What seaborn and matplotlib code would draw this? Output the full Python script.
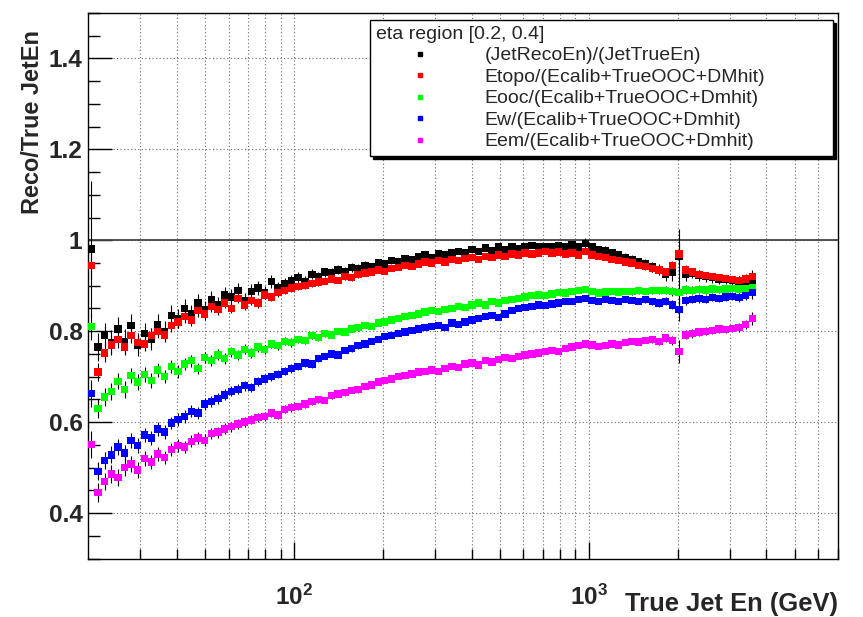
import numpy as np
import pandas as pd
import matplotlib
matplotlib.use("Agg")
import matplotlib.pyplot as plt
import seaborn as sns
from matplotlib import font_manager as fm
from matplotlib.ticker import FixedLocator, FuncFormatter, NullFormatter
from matplotlib.lines import Line2D

# ---------------- data ----------------
energy = [
    20.5, 21.6, 22.8, 24.0, 25.3, 26.6, 28.0, 29.5, 31.1, 32.8,
    34.5, 36.4, 38.3, 40.4, 42.5, 44.8, 47.2, 49.7, 52.4, 55.2,
    58.2, 61.3, 64.5, 68.0, 71.6, 75.5, 79.5, 83.8, 88.3, 93.0,
    98.0, 103, 109, 115, 121, 127, 134, 141, 149, 157,
    165, 174, 183, 193, 203, 214, 226, 238, 251, 264,
    278, 293, 309, 325, 343, 361, 380, 401, 422, 445,
    469, 494, 520, 548, 577, 608, 641, 675, 711, 749,
    789, 832, 876, 923, 973, 1025, 1080, 1138, 1199, 1263,
    1331, 1402, 1477, 1556, 1640, 1728, 1820, 1918, 2020, 2129,
    2243, 2363, 2490, 2623, 2763, 2911, 3067, 3232, 3405, 3587]

reco_over_true = [
    0.981, 0.765, 0.790, 0.775, 0.805, 0.778, 0.812, 0.770, 0.795, 0.782,
    0.815, 0.800, 0.835, 0.828, 0.850, 0.838, 0.862, 0.848, 0.870, 0.858,
    0.880, 0.875, 0.890, 0.868, 0.888, 0.895, 0.885, 0.910, 0.895, 0.905,
    0.912, 0.918, 0.910, 0.925, 0.920, 0.930, 0.928, 0.935, 0.932, 0.940,
    0.938, 0.945, 0.942, 0.950, 0.948, 0.955, 0.952, 0.960, 0.958, 0.965,
    0.968, 0.962, 0.970, 0.968, 0.972, 0.975, 0.972, 0.980, 0.976, 0.983,
    0.978, 0.985, 0.980, 0.986, 0.982, 0.985, 0.988, 0.985, 0.987, 0.985,
    0.988, 0.986, 0.990, 0.985, 0.993, 0.985, 0.980, 0.978, 0.972, 0.968,
    0.962, 0.958, 0.952, 0.948, 0.942, 0.935, 0.925, 0.930, 0.965, 0.925,
    0.928, 0.922, 0.920, 0.918, 0.915, 0.914, 0.912, 0.910, 0.906, 0.905]

etopo = [
    0.944, 0.710, 0.752, 0.770, 0.782, 0.765, 0.790, 0.775, 0.772, 0.790,
    0.800, 0.792, 0.812, 0.820, 0.832, 0.825, 0.845, 0.838, 0.855, 0.848,
    0.862, 0.850, 0.872, 0.858, 0.868, 0.862, 0.880, 0.875, 0.885, 0.890,
    0.895, 0.898, 0.900, 0.905, 0.908, 0.910, 0.915, 0.912, 0.920, 0.918,
    0.925, 0.928, 0.930, 0.935, 0.932, 0.938, 0.940, 0.945, 0.942, 0.948,
    0.952, 0.950, 0.955, 0.952, 0.958, 0.955, 0.960, 0.962, 0.958, 0.965,
    0.962, 0.968, 0.965, 0.970, 0.968, 0.972, 0.970, 0.972, 0.975, 0.972,
    0.974, 0.970, 0.972, 0.968, 0.975, 0.968, 0.965, 0.962, 0.958, 0.955,
    0.952, 0.950, 0.945, 0.942, 0.938, 0.935, 0.930, 0.945, 0.970, 0.935,
    0.930, 0.925, 0.922, 0.920, 0.918, 0.916, 0.914, 0.912, 0.915, 0.920]

eooc = [
    0.810, 0.630, 0.655, 0.668, 0.690, 0.672, 0.702, 0.688, 0.705, 0.692,
    0.715, 0.700, 0.722, 0.712, 0.728, 0.735, 0.718, 0.742, 0.735, 0.748,
    0.740, 0.755, 0.748, 0.760, 0.752, 0.765, 0.760, 0.772, 0.768, 0.778,
    0.775, 0.782, 0.780, 0.790, 0.786, 0.795, 0.792, 0.800, 0.798, 0.805,
    0.808, 0.812, 0.810, 0.818, 0.820, 0.825, 0.828, 0.832, 0.835, 0.838,
    0.842, 0.845, 0.843, 0.848, 0.850, 0.855, 0.852, 0.858, 0.862, 0.858,
    0.865, 0.862, 0.868, 0.870, 0.872, 0.875, 0.878, 0.880, 0.878, 0.882,
    0.885, 0.884, 0.888, 0.890, 0.892, 0.888, 0.884, 0.886, 0.888, 0.886,
    0.888, 0.887, 0.889, 0.888, 0.890, 0.889, 0.890, 0.888, 0.885, 0.891,
    0.890, 0.892, 0.891, 0.893, 0.892, 0.893, 0.894, 0.893, 0.894, 0.895]

ew = [
    0.663, 0.492, 0.515, 0.528, 0.545, 0.532, 0.560, 0.548, 0.572, 0.565,
    0.585, 0.578, 0.598, 0.606, 0.612, 0.624, 0.620, 0.640, 0.645, 0.652,
    0.660, 0.668, 0.672, 0.680, 0.676, 0.690, 0.695, 0.700, 0.705, 0.712,
    0.718, 0.722, 0.730, 0.728, 0.740, 0.745, 0.750, 0.748, 0.758, 0.762,
    0.768, 0.772, 0.778, 0.782, 0.788, 0.790, 0.795, 0.798, 0.802, 0.805,
    0.808, 0.810, 0.812, 0.808, 0.818, 0.815, 0.820, 0.825, 0.828, 0.832,
    0.835, 0.830, 0.838, 0.845, 0.850, 0.852, 0.855, 0.858, 0.856, 0.860,
    0.862, 0.865, 0.866, 0.870, 0.872, 0.868, 0.866, 0.870, 0.868, 0.865,
    0.870, 0.868, 0.866, 0.870, 0.865, 0.862, 0.866, 0.858, 0.848, 0.868,
    0.870, 0.872, 0.870, 0.874, 0.872, 0.875, 0.876, 0.874, 0.878, 0.885]

eem = [
    0.551, 0.445, 0.470, 0.486, 0.478, 0.500, 0.508, 0.495, 0.520, 0.512,
    0.530, 0.522, 0.540, 0.548, 0.545, 0.558, 0.565, 0.560, 0.575, 0.578,
    0.585, 0.590, 0.596, 0.600, 0.605, 0.610, 0.612, 0.620, 0.616, 0.628,
    0.632, 0.635, 0.640, 0.645, 0.650, 0.648, 0.658, 0.662, 0.665, 0.670,
    0.672, 0.678, 0.682, 0.688, 0.692, 0.695, 0.700, 0.702, 0.706, 0.710,
    0.712, 0.715, 0.712, 0.718, 0.722, 0.720, 0.728, 0.730, 0.726, 0.735,
    0.732, 0.738, 0.742, 0.740, 0.745, 0.748, 0.750, 0.752, 0.755, 0.758,
    0.756, 0.762, 0.765, 0.768, 0.772, 0.770, 0.766, 0.768, 0.772, 0.770,
    0.775, 0.778, 0.776, 0.780, 0.782, 0.778, 0.785, 0.780, 0.755, 0.792,
    0.795, 0.798, 0.800, 0.802, 0.805, 0.804, 0.806, 0.808, 0.815, 0.828]

err_reco = [
    0.150, 0.030, 0.028, 0.028, 0.027, 0.026, 0.026, 0.025, 0.024, 0.024,
    0.023, 0.022, 0.022, 0.021, 0.020, 0.020, 0.019, 0.019, 0.018, 0.018,
    0.017, 0.017, 0.016, 0.016, 0.015, 0.015, 0.014, 0.014, 0.013, 0.013,
    0.012, 0.012, 0.011, 0.011, 0.011, 0.010, 0.010, 0.010, 0.010, 0.009,
    0.009, 0.009, 0.009, 0.008, 0.008, 0.008, 0.008, 0.008, 0.007, 0.007,
    0.007, 0.007, 0.007, 0.007, 0.006, 0.006, 0.006, 0.006, 0.006, 0.006,
    0.006, 0.006, 0.006, 0.006, 0.006, 0.006, 0.006, 0.006, 0.007, 0.007,
    0.007, 0.007, 0.007, 0.008, 0.012, 0.008, 0.008, 0.009, 0.009, 0.009,
    0.010, 0.010, 0.010, 0.011, 0.011, 0.012, 0.014, 0.020, 0.060, 0.014,
    0.012, 0.012, 0.011, 0.011, 0.011, 0.010, 0.010, 0.011, 0.012, 0.020]

err_other = [
    0.030, 0.020, 0.019, 0.019, 0.018, 0.018, 0.017, 0.017, 0.016, 0.016,
    0.015, 0.015, 0.014, 0.014, 0.014, 0.013, 0.013, 0.013, 0.012, 0.012,
    0.012, 0.011, 0.011, 0.011, 0.010, 0.010, 0.010, 0.009, 0.009, 0.009,
    0.009, 0.008, 0.008, 0.008, 0.008, 0.007, 0.007, 0.007, 0.007, 0.007,
    0.007, 0.006, 0.006, 0.006, 0.006, 0.006, 0.006, 0.006, 0.005, 0.005,
    0.005, 0.005, 0.005, 0.005, 0.005, 0.005, 0.005, 0.005, 0.005, 0.005,
    0.005, 0.005, 0.005, 0.005, 0.005, 0.005, 0.005, 0.005, 0.005, 0.005,
    0.005, 0.005, 0.005, 0.005, 0.005, 0.005, 0.005, 0.006, 0.006, 0.006,
    0.006, 0.007, 0.007, 0.007, 0.008, 0.008, 0.009, 0.010, 0.025, 0.010,
    0.009, 0.009, 0.009, 0.008, 0.008, 0.008, 0.008, 0.009, 0.010, 0.015]

labels = ["(JetRecoEn)/(JetTrueEn)",
          "Etopo/(Ecalib+TrueOOC+DMhit)",
          "Eooc/(Ecalib+TrueOOC+Dmhit)",
          "Ew/(Ecalib+TrueOOC+Dmhit)",
          "Eem/(Ecalib+TrueOOC+Dmhit)"]
colors = ["#000000", "#ff0000", "#00ff00", "#0000ff", "#ff00ff"]
series_values = [reco_over_true, etopo, eooc, ew, eem]
series_errors = [err_reco, err_other, err_other, err_other, err_other]
legend_title = "eta region [0.2, 0.4]"
x_major = [100, 1000]
x_minor = [30, 40, 50, 60, 70, 80, 90, 200, 300, 400, 500, 600, 700, 800, 900,
           2000, 3000, 4000, 5000, 6000, 7000]
y_major = [0.4, 0.6, 0.8, 1.0, 1.2, 1.4]
y_minor = [0.3, 0.35, 0.45, 0.5, 0.55, 0.65, 0.7, 0.75, 0.85, 0.9, 0.95,
           1.05, 1.1, 1.15, 1.25, 1.3, 1.35, 1.45, 1.5]

for v in series_values + series_errors:
    assert len(v) == len(energy)

# ---------------- style ----------------
sns.set_theme(style="white")
names = {f.name for f in fm.fontManager.ttflist}
narrow = "Liberation Sans Narrow" in names
fam = "Liberation Sans Narrow" if narrow else "Liberation Sans"
k = 1.22 if narrow else 1.0
plt.rcParams["font.family"] = [fam, "DejaVu Sans"]
plt.rcParams["font.weight"] = "bold"
plt.rcParams["mathtext.fontset"] = "custom"
plt.rcParams["mathtext.bf"] = fam + ":bold"
plt.rcParams["mathtext.rm"] = fam + ":bold"

df = pd.concat(
    [pd.DataFrame({"E": energy, "ratio": vals, "err": errs, "series": lab})
     for lab, vals, errs in zip(labels, series_values, series_errors)],
    ignore_index=True)

fig = plt.figure(figsize=(8.63, 6.17), dpi=100)
fig.patch.set_facecolor("white")
ax = fig.add_axes([88 / 863, 1 - 558.5 / 617, 750 / 863, 545.5 / 617])
ax.set_facecolor("white")

ax.set_xscale("log")
ax.set_xlim(20, 7000)
ax.set_ylim(0.3, 1.5)

# grid
ax.grid(True, which="both", axis="x", color="#6a6a6a", lw=0.8, ls=(0, (1, 2.2)), zorder=0)
ax.grid(True, which="major", axis="y", color="#6a6a6a", lw=0.8, ls=(0, (1, 2.2)), zorder=0)
ax.axhline(1.0, color="#444444", lw=1.3, zorder=1)

# error bars then markers
for i, lab in enumerate(labels):
    sub = df[df["series"] == lab]
    ax.errorbar(sub["E"], sub["ratio"], yerr=sub["err"], fmt="none",
                ecolor="black", elinewidth=0.8, capsize=0, zorder=2 + i * 0.01)

sns.scatterplot(data=df, x="E", y="ratio", hue="series", hue_order=labels,
                palette=dict(zip(labels, colors)), marker="s", s=28,
                linewidth=0, legend=False, ax=ax, zorder=3)
ax.set_xlabel("")
ax.set_ylabel("")

# ticks
ax.xaxis.set_major_locator(FixedLocator(x_major))
ax.xaxis.set_minor_locator(FixedLocator(x_minor))
ax.xaxis.set_major_formatter(FuncFormatter(lambda v, p: r"$\mathbf{10^{%d}}$" % round(np.log10(v))))
ax.xaxis.set_minor_formatter(NullFormatter())
ax.yaxis.set_major_locator(FixedLocator(y_major))
ax.yaxis.set_minor_locator(FixedLocator(y_minor))
ax.yaxis.set_major_formatter(FuncFormatter(lambda v, p: "%g" % v))
ax.yaxis.set_minor_formatter(NullFormatter())

ax.tick_params(axis="both", which="both", direction="in", color="black",
               bottom=True, left=True, top=False, right=False, width=1)
ax.tick_params(axis="y", which="major", length=17, labelsize=17.6 * k, pad=4)
ax.tick_params(axis="y", which="minor", length=8.5)
ax.tick_params(axis="x", which="major", length=12, labelsize=17.5 * k, pad=19)
ax.tick_params(axis="x", which="minor", length=7)

for sp in ax.spines.values():
    sp.set_color("black")
    sp.set_linewidth(1.0)
    sp.set_visible(True)

# axis titles (ROOT style, aligned to the axis ends)
fig.text(838 / 863, 1 - 604 / 617, "True Jet En (GeV)", ha="right", va="center",
         fontsize=18.4 * k, fontweight="bold")
fig.text(33 / 863, 1 - 30 / 617, "Reco/True JetEn", ha="center", va="top",
         rotation=90, fontsize=16.9 * k, fontweight="bold")

# legend
handles = [Line2D([], [], marker="s", ls="none", color=c, markersize=3.2) for c in colors]
x0 = (370 - 88) / 750
wid = (833 - 370) / 750
leg = ax.legend(handles, labels, title=legend_title, loc="upper left",
                bbox_to_anchor=(x0, 0.0, wid, 0.987), mode="expand",
                borderaxespad=0, frameon=True, fancybox=False,
                edgecolor="black", framealpha=1,
                shadow={"color": "black", "alpha": 1},
                prop={"size": 14 * k, "weight": "normal"},
                title_fontproperties={"size": 14 * k, "weight": "normal"},
                alignment="left", handlelength=4.5, handletextpad=1.1,
                labelspacing=0.2, borderpad=0.3)
leg.get_frame().set_linewidth(1.0)
leg.set_zorder(10)

fig.savefig("out.png", dpi=100, facecolor="white")
